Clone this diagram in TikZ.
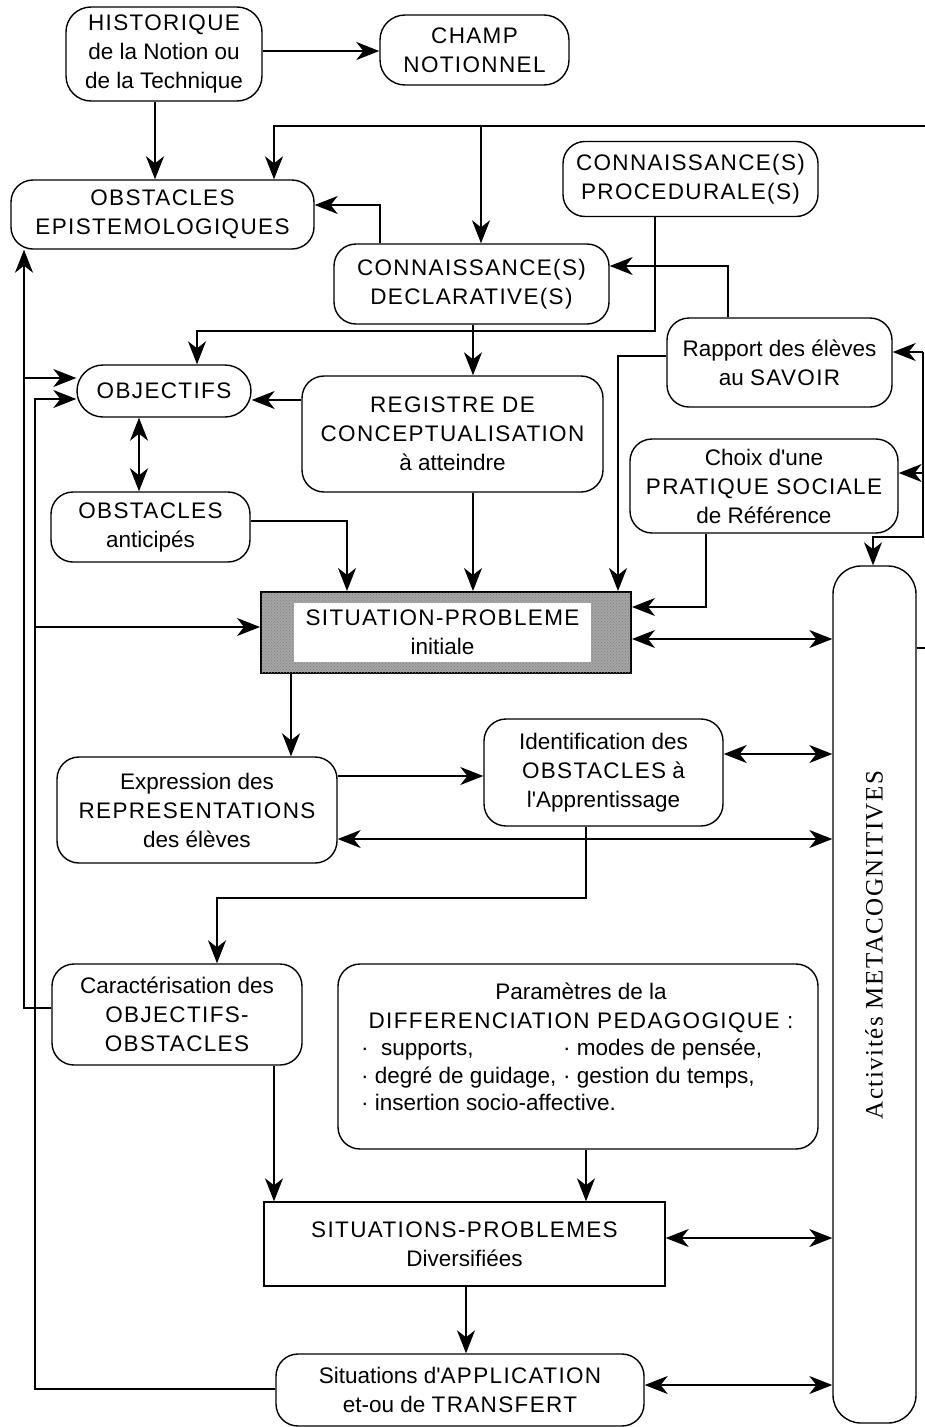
\documentclass[tikz,border=0pt]{standalone}
\usepackage{fontspec}
\setmainfont{Liberation Sans}
\newfontfamily\capsf[LetterSpace=6]{Liberation Sans}
\newfontfamily\metafont[LetterSpace=6]{Liberation Serif}
\usetikzlibrary{arrows.meta,patterns}
\definecolor{spgray}{RGB}{165,165,165}
\newcommand{\apo}{\textquotesingle}
\begin{document}
\begin{tikzpicture}[x=1pt,y=-1pt,
  box/.style={draw,line width=1.4pt,rounded corners=22pt,align=center,inner sep=0pt,font=\fontsize{22.5}{29}\selectfont},
  sqbox/.style={box,rounded corners=0pt},
  txt/.style={inner sep=0pt,font=\fontsize{22.5}{29}\selectfont},
  bul/.style={txt,anchor=west,text height=16pt,text depth=5pt},
  conn/.style={line width=1.3pt},
  tip/.tip={Stealth[length=23pt,width=18pt,inset=7pt]},
  arr/.style={conn,-tip},
  darr/.style={conn,tip-tip}]
\useasboundingbox (0,0) rectangle (925,1427);

% ---------- nodes ----------
\node[box,rounded corners=25pt,minimum width=196pt,minimum height=94pt] (hist) at (164,54)
  {{\capsf HISTORIQUE}\\de la Notion ou\\de la Technique};
\node[box,rounded corners=25pt,minimum width=189pt,minimum height=70pt] (champ) at (474.5,50)
  {\capsf CHAMP\\\capsf NOTIONNEL};
\node[box,minimum width=303pt,minimum height=69pt] (epist) at (162.5,214.5)
  {\capsf OBSTACLES\\\capsf EPISTEMOLOGIQUES};
\node[box,minimum width=255pt,minimum height=75pt] (proc) at (690.5,179)
  {\capsf CONNAISSANCE(S)\\\capsf PROCEDURALE(S)};
\node[box,minimum width=275pt,minimum height=80pt] (decl) at (471.5,284)
  {\capsf CONNAISSANCE(S)\\\capsf DECLARATIVE(S)};
\node[box,minimum width=225pt,minimum height=89pt] (rap) at (779.5,362.5)
  {Rapport des élèves\\au {\capsf SAVOIR}};
\node[box,rounded corners=26pt,minimum width=174pt,minimum height=52pt] (obj) at (164,391)
  {\capsf OBJECTIFS};
\node[box,minimum width=301pt,minimum height=116pt] (reg) at (452.5,434)
  {\capsf REGISTRE DE\\\capsf CONCEPTUALISATION\\à atteindre};
\node[box,minimum width=268pt,minimum height=94pt] (choix) at (764,486)
  {Choix d\apo une\\\capsf PRATIQUE SOCIALE\\de Référence};
\node[box,minimum width=199pt,minimum height=70pt] (oant) at (150.5,527)
  {\capsf OBSTACLES\\anticipés};
\node[draw,line width=2pt,fill=spgray,postaction={pattern=crosshatch dots,pattern color=black!50},
  minimum width=370pt,minimum height=81pt,inner sep=0pt] (sp) at (446,632.5) {};
\node[fill=white,minimum width=297pt,minimum height=59pt,align=center,inner sep=0pt,
  font=\fontsize{22.5}{29}\selectfont] (spin) at (442.5,632.5)
  {\capsf SITUATION-PROBLEME\\initiale};
\node[box,rounded corners=28pt,minimum width=83pt,minimum height=857pt] (meta) at (874.5,994.5) {};
\node[inner sep=0pt,rotate=90,font=\metafont\fontsize{25}{30}\selectfont] (metatxt) at (874,945)
  {Activités METACOGNITIVES};
\node[box,minimum width=239pt,minimum height=107pt] (ident) at (603.5,772.5)
  {Identification des\\{\capsf OBSTACLES} à\\l\apo Apprentissage};
\node[box,minimum width=280pt,minimum height=106pt] (expr) at (197,810)
  {Expression des\\\capsf REPRESENTATIONS\\des élèves};
\node[box,minimum width=250pt,minimum height=101pt] (car) at (177,1014.5)
  {Caractérisation des\\\capsf OBJECTIFS-\\\capsf OBSTACLES};
\node[box,minimum width=480pt,minimum height=185pt] (param) at (578,1056.5) {};
\node[txt,align=center] (paramhead) at (581,1007.5)
  {Paramètres de la\\\capsf DIFFERENCIATION PEDAGOGIQUE :};
\node[bul] (b1) at (361,1050) {·\ \ supports,};
\node[bul] (b2) at (563,1050) {· modes de pensée,};
\node[bul] (b3) at (361,1078) {· degré de guidage,};
\node[bul] (b4) at (563,1078) {· gestion du temps,};
\node[bul] (b5) at (361,1105) {· insertion socio-affective.};
\node[sqbox,minimum width=401pt,minimum height=84pt] (spd) at (464.5,1244)
  {\capsf SITUATIONS-PROBLEMES\\Diversifiées};
\node[box,minimum width=368pt,minimum height=72pt] (app) at (460,1390)
  {Situations d\apo{\capsf APPLICATION}\\et-ou de {\capsf TRANSFERT}};

% ---------- free ends / junctions ----------
\coordinate (topR) at (925,126);
\coordinate (topJ) at (481,126);
\coordinate (fr1) at (923,352);
\coordinate (fr2) at (923,473);
\coordinate (fr3) at (923,537);
\coordinate (fr4) at (925,648);
\coordinate (jE) at (24,378);
\coordinate (jS) at (35,627);

% ---------- connectors ----------
\draw[arr] (hist.east |- 0,51) -- (champ.west |- 0,51);
\draw[arr] (hist.south -| 155,0) -- (epist.north -| 155,0);
\draw[arr] (topR) -| (epist.north -| 274,0);
\draw[arr] (topJ) -- (decl.north -| 481,0);
\draw[arr] (decl.north -| 380,0) |- (epist.east |- 0,205);
\draw[arr] (proc.south -| 655,0) |- (197,331) -- (obj.north -| 197,0);
\draw[arr] (rap.north -| 728,0) |- (decl.east |- 0,266);
\draw[arr] (rap.west |- 0,356) -| (sp.north -| 618,0);
\draw[arr] (choix.south -| 706,0) |- (sp.east |- 0,607);
\draw[arr] (reg.west |- 0,400) -- (obj.east |- 0,400);
\draw[arr] (decl.south -| 473,0) -- (reg.north -| 473,0);
\draw[darr] (obj.south -| 139,0) -- (oant.north -| 139,0);
\draw[arr] (oant.east |- 0,521) -| (sp.north -| 347,0);
\draw[arr] (reg.south -| 473,0) -- (sp.north -| 473,0);

\draw[arr] (fr1) -- (rap.east |- fr1);
\draw[arr] (fr2) -- (choix.east |- fr2);
\draw[arr] (fr1) -- (fr3) -| (meta.north -| 873,0);
\draw[conn] (meta.east |- fr4) -- (fr4);

\draw[darr] (sp.east |- 0,639) -- (meta.west |- 0,639);
\draw[darr] (ident.east |- 0,754) -- (meta.west |- 0,754);
\draw[darr] (expr.east |- 0,839) -- (meta.west |- 0,839);
\draw[darr] (spd.east |- 0,1238) -- (meta.west |- 0,1238);
\draw[darr] (app.east |- 0,1385) -- (meta.west |- 0,1385);

\draw[arr] (sp.south -| 291,0) -- (expr.north -| 291,0);
\draw[arr] (expr.east |- 0,776) -- (ident.west |- 0,776);
\draw[arr] (ident.south -| 586,0) |- (217,898) -- (car.north -| 217,0);
\draw[arr] (car.west |- 0,1008) -| (epist.south -| 24,0);
\draw[arr] (jE) -- (obj.west |- jE);
\draw[arr] (app.west |- 0,1389) -| (35,399) -- (obj.west |- 0,399);
\draw[arr] (jS) -- (sp.west |- jS);
\draw[arr] (car.south -| 274,0) -- (spd.north -| 274,0);
\draw[arr] (param.south -| 586,0) -- (spd.north -| 586,0);
\draw[arr] (spd.south -| 466,0) -- (app.north -| 466,0);
\end{tikzpicture}
\end{document}
